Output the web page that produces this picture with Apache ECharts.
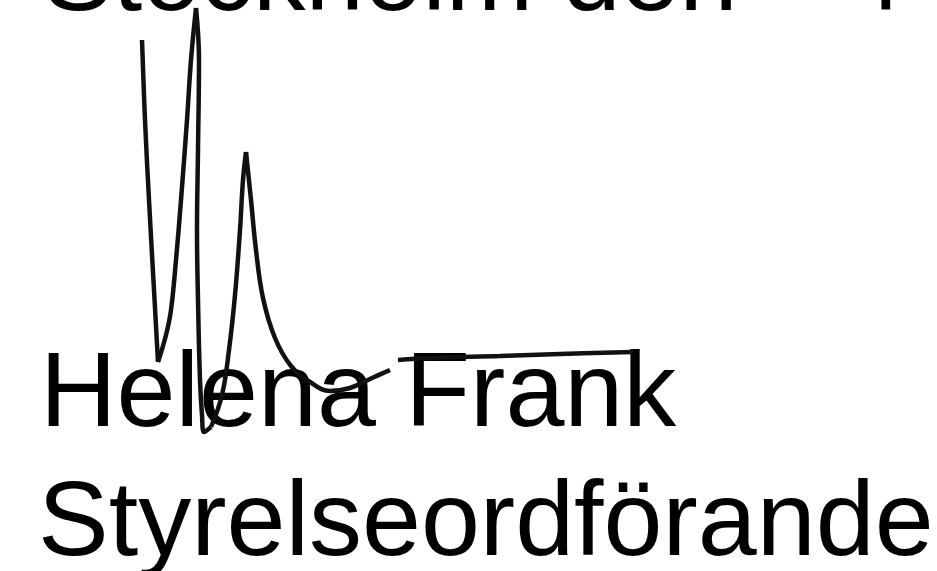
<!DOCTYPE html>
<html>
<head>
<meta charset="utf-8">
<script src="https://cdn.jsdelivr.net/npm/echarts@6/dist/echarts.min.js"></script>
<style>
  html, body { margin: 0; padding: 0; background: #fff; }
  #sig { width: 937px; height: 571px; }
</style>
</head>
<body>
<div id="sig"></div>
<script>
// texter
var placeLine = 'Stockholm den';
var dateDigit = '4';
var signName = 'Helena Frank';
var signRole = 'Styrelseordförande';

// namnteckningens drag, [x, y] i bildens skala
var stroke1 = [[142, 40], [145, 120], [149, 200], [154, 290], [158, 362]];
var stroke2 = [[158, 362], [166, 335], [171, 310], [176, 260], [181, 200], [187, 120], [191, 60], [196, 8]];
var stroke3 = [[196, 8], [199, 60], [198, 150], [197, 230], [198, 300], [200, 380], [202, 415], [204, 432], [211, 427]];
var stroke4 = [[211, 427], [222, 395], [229, 350], [235, 295], [240, 230], [243, 180], [246, 152]];
var stroke5 = [[246, 152], [251, 200], [256, 250], [263, 298], [275, 338], [291, 366], [310, 382], [330, 391], [350, 388], [372, 378], [390, 370]];
var stroke6 = [[398, 360], [430, 358], [500, 356], [560, 354], [633, 352]];

var chart = echarts.init(document.getElementById('sig'));

function strokeSeries(data) {
    return {
        type: 'line',
        data: data,
        smooth: 0.4,
        symbol: 'none',
        silent: true,
        lineStyle: { color: '#111', width: 4.5 }
    };
}

var textFont = '"Liberation Sans", Arial, sans-serif';

var option = {
    backgroundColor: '#fff',
    animation: false,
    grid: { left: 0, right: 0, top: 0, bottom: 0 },
    xAxis: { type: 'value', min: 0, max: 937, show: false },
    yAxis: { type: 'value', min: 0, max: 571, inverse: true, show: false },
    graphic: [
        { type: 'text', left: 43, top: -71, style: { text: placeLine, fontSize: 105, fontFamily: textFont, fill: '#000' } },
        { type: 'text', left: 845, top: -71, style: { text: dateDigit, fontSize: 105, fontFamily: textFont, fill: '#000' } },
        { type: 'text', left: 40, top: 344, style: { text: signName, fontSize: 106, fontFamily: textFont, fill: '#000' } },
        { type: 'text', left: 38, top: 473, style: { text: signRole, fontSize: 106, fontFamily: textFont, fill: '#000' } }
    ],
    series: [
        strokeSeries(stroke1),
        strokeSeries(stroke2),
        strokeSeries(stroke3),
        strokeSeries(stroke4),
        strokeSeries(stroke5),
        strokeSeries(stroke6)
    ]
};
chart.setOption(option);
</script>
</body>
</html>
